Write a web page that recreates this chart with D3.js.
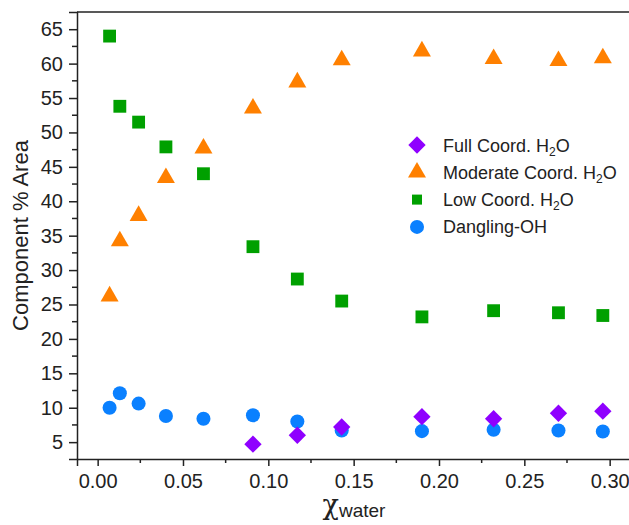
<!DOCTYPE html>
<html>
<head>
<meta charset="utf-8">
<script src="https://cdn.jsdelivr.net/npm/d3@7"></script>
<style>
  body { margin: 0; background: #fff; }
  svg text { font-family: "Liberation Sans", Arial, sans-serif; fill: #222; }
</style>
</head>
<body>
<div id="chart"></div>
<script>
// chart data
const xWater = [0.007, 0.013, 0.024, 0.040, 0.062, 0.091, 0.117, 0.143, 0.190, 0.232, 0.270, 0.296];
const xFull = [0.091, 0.117, 0.143, 0.190, 0.232, 0.270, 0.296];
const fullCoord = [4.7, 6.0, 7.2, 8.7, 8.4, 9.2, 9.5];
const moderateCoord = [26.2, 34.2, 37.9, 43.4, 47.7, 53.5, 57.3, 60.5, 61.8, 60.7, 60.4, 60.8];
const lowCoord = [64.0, 53.8, 51.5, 47.9, 44.0, 33.4, 28.7, 25.5, 23.2, 24.1, 23.8, 23.4];
const danglingOH = [10.0, 12.1, 10.6, 8.8, 8.4, 8.9, 8.0, 6.7, 6.6, 6.8, 6.7, 6.55];
const xTicks = [0, 0.05, 0.10, 0.15, 0.20, 0.25, 0.30];
const yTicks = [5, 10, 15, 20, 25, 30, 35, 40, 45, 50, 55, 60, 65];

// set the dimensions and margins of the graph
let margin = { top: 12, right: -2, bottom: 66, left: 77 },
    width = 629 - margin.left - margin.right,
    height = 525 - margin.top - margin.bottom;

let svg = d3.select("#chart")
    .append("svg")
    .attr("width", 629)
    .attr("height", 525);
let g = svg.append("g")
    .attr("transform", "translate(" + margin.left + "," + margin.top + ")");

let x = d3.scaleLinear().domain([-0.0121, 0.3125]).range([0, width]);
let y = d3.scaleLinear().domain([2.55, 67.5]).range([height, 0]);

// frame
g.append("line").attr("x1", 0).attr("x2", width).attr("y1", 0).attr("y2", 0)
    .attr("stroke", "#222").attr("stroke-width", 1.5);

// x axis, major + minor ticks
let xAxis = g.append("g").attr("transform", "translate(0," + height + ")")
    .call(d3.axisBottom(x).tickValues(xTicks).tickFormat(d3.format(".2f")).tickSizeOuter(0).tickSize(7).tickPadding(8));
xAxis.append("g").selectAll("line")
    .data(xTicks.slice(0, -1).map(d => d + 0.025))
    .enter().append("line")
    .attr("x1", d => x(d)).attr("x2", d => x(d))
    .attr("y1", 0).attr("y2", 4)
    .attr("stroke", "#222").attr("stroke-width", 1.5);

let yAxis = g.append("g")
    .call(d3.axisLeft(y).tickValues(yTicks).tickSizeOuter(0).tickSize(8).tickPadding(6));
yAxis.append("g").selectAll("line")
    .data(yTicks.slice(0, -1).map(d => d + 2.5))
    .enter().append("line")
    .attr("x1", 0).attr("x2", -5)
    .attr("y1", d => y(d)).attr("y2", d => y(d))
    .attr("stroke", "#222").attr("stroke-width", 1.5);

g.selectAll(".domain").attr("stroke", "#222").attr("stroke-width", 1.5);
g.selectAll(".tick line").attr("stroke", "#222").attr("stroke-width", 1.5);
g.selectAll(".tick text").attr("font-size", "20px").style("fill", "#222");

// axis titles
svg.append("text")
    .attr("transform", "translate(28," + (margin.top + height / 2) + ") rotate(-90)")
    .attr("text-anchor", "middle")
    .attr("font-size", "22px")
    .text("Component % Area");

let xt = svg.append("text")
    .attr("x", margin.left + width / 2)
    .attr("y", 514)
    .attr("text-anchor", "middle");
xt.append("tspan").attr("font-size", "27px")
    .style("font-family", "'DejaVu Serif', serif").text("χ");
xt.append("tspan").attr("font-size", "19px").attr("dy", 3).text("water");

// marker shapes
const colors = { full: "#8f00ff", moderate: "#ff8000", low: "#00a000", dangling: "#0a80ff" };
const sym = {
    full: d3.symbol().type(d3.symbolSquare).size(150)(),
    moderate: d3.symbol().type(d3.symbolTriangle).size(140)(),
    low: d3.symbol().type(d3.symbolSquare).size(165)(),
    dangling: d3.symbol().type(d3.symbolCircle).size(155)()
};
const rot = { full: 45, moderate: 0, low: 0, dangling: 0 };

function drawSeries(key, xs, ys) {
    g.append("g").selectAll("path")
        .data(ys)
        .enter().append("path")
        .attr("d", sym[key])
        .attr("transform", (d, i) => "translate(" + x(xs[i]) + "," + y(d) + ") rotate(" + rot[key] + ")")
        .attr("fill", colors[key]);
}

drawSeries("low", xWater, lowCoord);
drawSeries("moderate", xWater, moderateCoord);
drawSeries("dangling", xWater, danglingOH);
drawSeries("full", xFull, fullCoord);

// legend
const legendKeys = ["full", "moderate", "low", "dangling"];
const legendText = [["Full Coord. H", "2", "O"], ["Moderate Coord. H", "2", "O"], ["Low Coord. H", "2", "O"], ["Dangling-OH"]];
let legend = svg.append("g").attr("transform", "translate(417,145)");
legendKeys.forEach((k, i) => {
    let row = legend.append("g").attr("transform", "translate(0," + (i * 27.3) + ")");
    row.append("path").attr("d", sym[k])
        .attr("transform", "rotate(" + rot[k] + ")" + (k === "low" ? " scale(0.78)" : ""))
        .attr("fill", colors[k]);
    let t = row.append("text").attr("x", 26).attr("y", 6.5).attr("font-size", "18px");
    let parts = legendText[i];
    t.append("tspan").text(parts[0]);
    if (parts.length > 1) {
        t.append("tspan").attr("font-size", "12px").attr("dy", 4).text(parts[1]);
        t.append("tspan").attr("dy", -4).text(parts[2]);
    }
});
</script>
</body>
</html>
